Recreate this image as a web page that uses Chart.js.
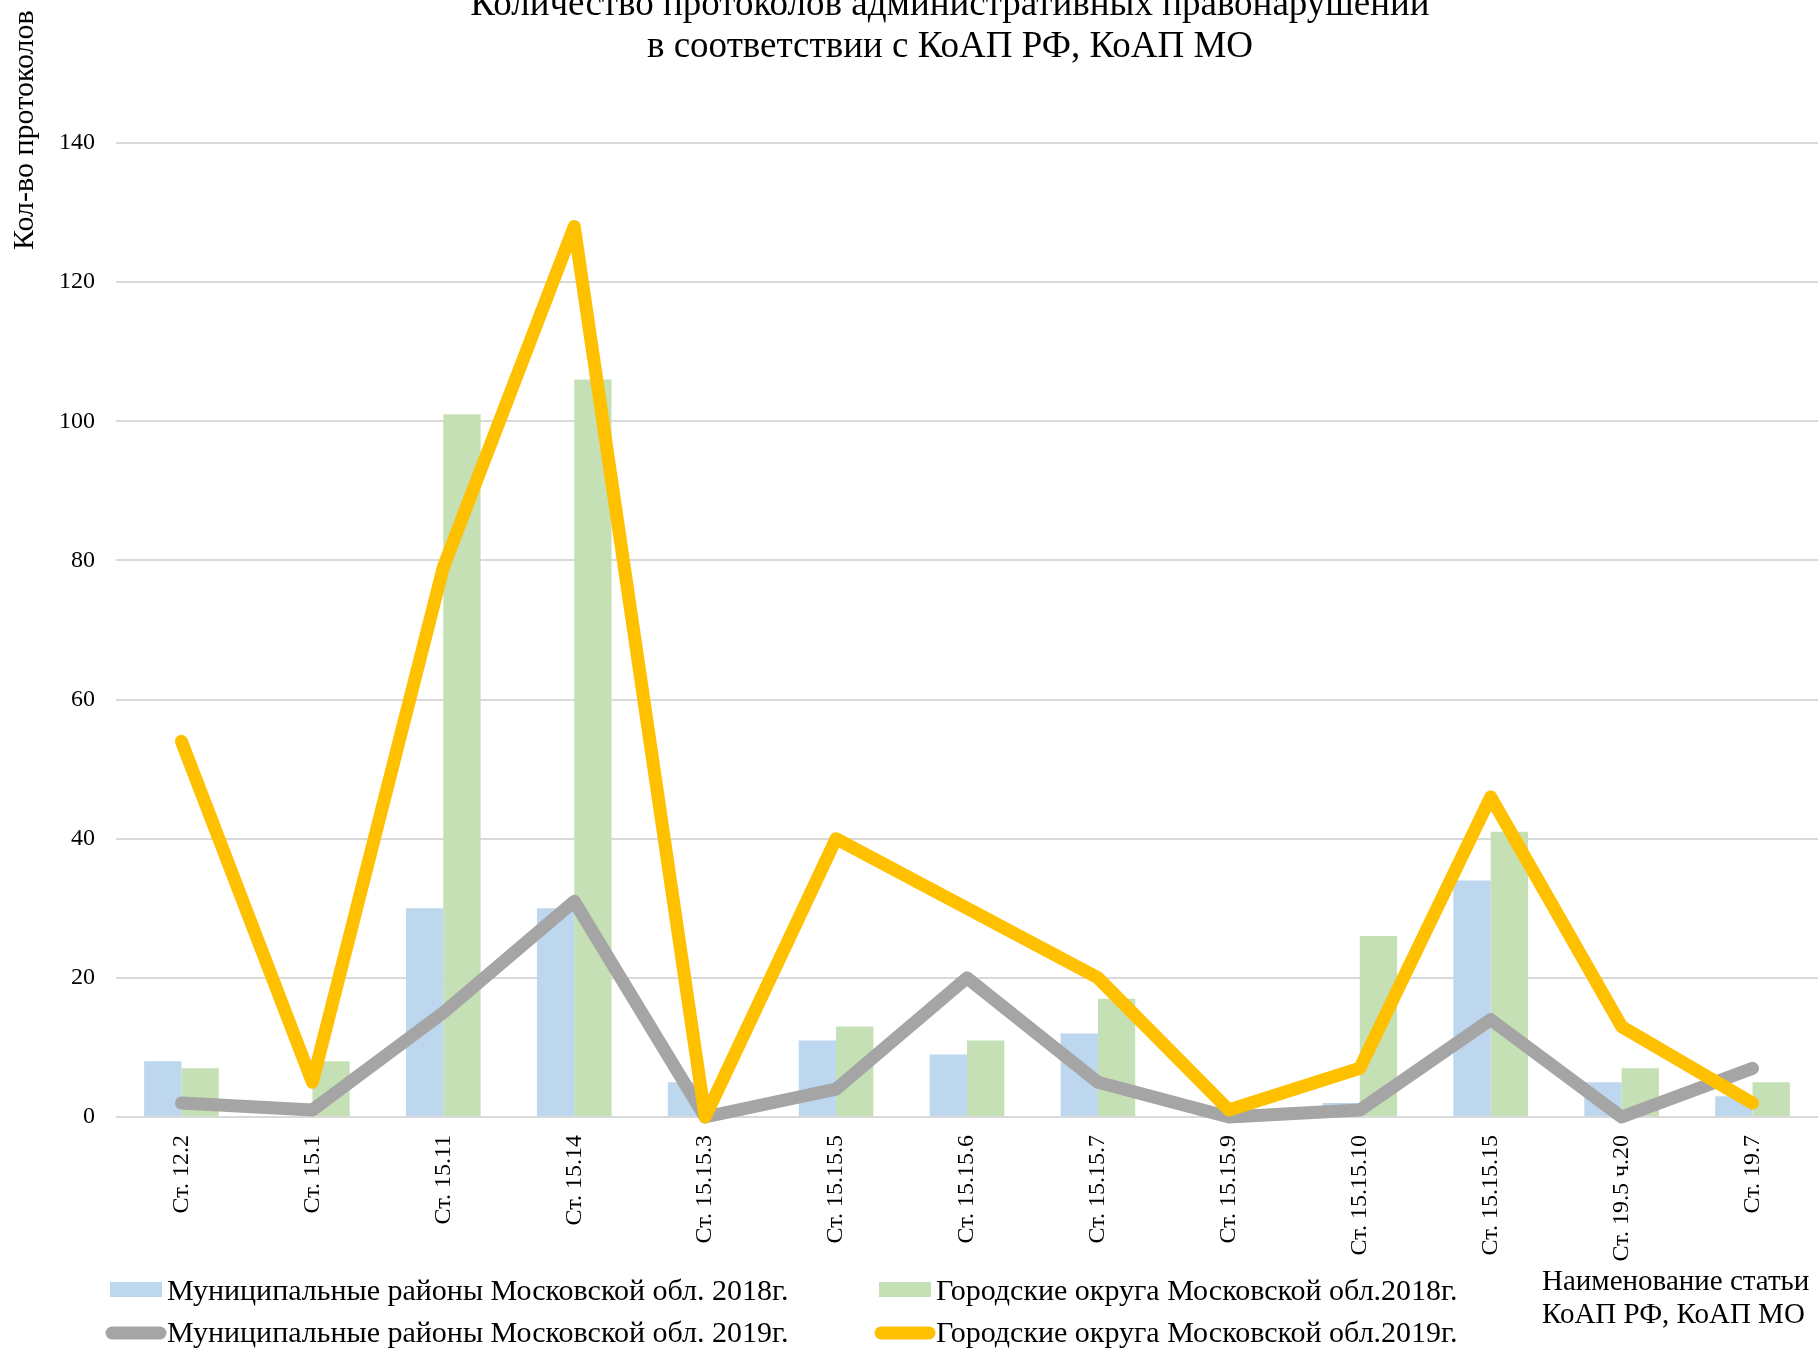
<!DOCTYPE html>
<html lang="ru">
<head>
    <meta charset="utf-8">
    <style>
        body { margin: 0; background: #fff; }
    </style>
</head>
<body>
    <canvas id="protocolsChart" width="1818" height="1350"></canvas>
    <script src="https://cdn.jsdelivr.net/npm/chart.js"></script>
    <script>
        const articles = ['Ст. 12.2', 'Ст. 15.1', 'Ст. 15.11', 'Ст. 15.14', 'Ст. 15.15.3', 'Ст. 15.15.5',
            'Ст. 15.15.6', 'Ст. 15.15.7', 'Ст. 15.15.9', 'Ст. 15.15.10', 'Ст. 15.15.15', 'Ст. 19.5 ч.20', 'Ст. 19.7'];
        const munic2018 = [8, 0, 30, 30, 5, 11, 9, 12, 0, 2, 34, 5, 3];
        const city2018 = [7, 8, 101, 106, 1, 13, 11, 17, 0, 26, 41, 7, 5];
        const munic2019 = [2, 1, 15, 31, 0, 4, 20, 5, 0, 1, 14, 0, 7];
        const city2019 = [54, 5, 79, 128, 0, 40, 30, 20, 1, 7, 46, 13, 2];
        const seriesNames = ['Муниципальные районы Московской обл. 2018г.', 'Городские округа Московской обл.2018г.',
            'Муниципальные районы Московской обл. 2019г.', 'Городские округа Московской обл.2019г.'];
        const seriesColors = ['#BDD7EE', '#C5E0B4', '#A5A5A5', '#FFC000'];
        const titleLines = ['Количество протоколов административных правонарушений', 'в соответствии с КоАП РФ, КоАП МО'];
        const yTitle = 'Кол-во протоколов';
        const xTitleLines = ['Наименование статьи', 'КоАП РФ, КоАП МО'];

        const serif = '"Liberation Serif", "DejaVu Serif", serif';

        // titles and legend are drawn by hand to match the original layout
        const decorations = {
            id: 'decorations',
            afterDraw(chart) {
                const ctx = chart.ctx;
                ctx.save();
                ctx.fillStyle = '#000';

                ctx.font = '37px ' + serif;
                ctx.textAlign = 'center';
                ctx.textBaseline = 'alphabetic';
                ctx.fillText(titleLines[0], 950, 15);
                ctx.fillText(titleLines[1], 950, 57);

                ctx.save();
                ctx.font = '30px ' + serif;
                ctx.translate(33, 250);
                ctx.rotate(-Math.PI / 2);
                ctx.textAlign = 'left';
                ctx.fillText(yTitle, 0, 0);
                ctx.restore();

                ctx.font = '29px ' + serif;
                ctx.textAlign = 'left';
                ctx.fillText(xTitleLines[0], 1542, 1290);
                ctx.fillText(xTitleLines[1], 1542, 1323);

                ctx.font = '30px ' + serif;
                const cols = [110, 879];
                const rows = [1300, 1342];
                for (let i = 0; i < 4; i++) {
                    const x = cols[i % 2];
                    const base = rows[Math.floor(i / 2)];
                    if (i < 2) {
                        ctx.fillStyle = seriesColors[i];
                        ctx.fillRect(x, base - 18, 52, 15);
                    } else {
                        ctx.strokeStyle = seriesColors[i];
                        ctx.lineWidth = 13;
                        ctx.lineCap = 'round';
                        ctx.beginPath();
                        ctx.moveTo(x + 2, base - 9);
                        ctx.lineTo(x + 50, base - 9);
                        ctx.stroke();
                    }
                    ctx.fillStyle = '#000';
                    ctx.fillText(seriesNames[i], x + 57, base);
                }
                ctx.restore();
            }
        };

        new Chart(document.getElementById('protocolsChart'), {
            data: {
                labels: articles,
                datasets: [
                    {
                        type: 'line', label: seriesNames[3], data: city2019, order: 0,
                        borderColor: seriesColors[3], borderWidth: 13, pointRadius: 0,
                        borderCapStyle: 'round', borderJoinStyle: 'round', clip: false, tension: 0
                    },
                    {
                        type: 'line', label: seriesNames[2], data: munic2019, order: 1,
                        borderColor: seriesColors[2], borderWidth: 13, pointRadius: 0,
                        borderCapStyle: 'round', borderJoinStyle: 'round', clip: false, tension: 0
                    },
                    {
                        type: 'bar', label: seriesNames[0], data: munic2018, order: 2,
                        backgroundColor: seriesColors[0], categoryPercentage: 0.57, barPercentage: 1
                    },
                    {
                        type: 'bar', label: seriesNames[1], data: city2018, order: 3,
                        backgroundColor: seriesColors[1], categoryPercentage: 0.57, barPercentage: 1
                    }
                ]
            },
            options: {
                responsive: false,
                animation: false,
                devicePixelRatio: 1,
                layout: { padding: { top: 143, left: 0, right: 0, bottom: 0 } },
                plugins: {
                    legend: { display: false },
                    title: { display: false },
                    tooltip: { enabled: false }
                },
                scales: {
                    x: {
                        grid: { display: false, drawTicks: false },
                        border: { display: false },
                        ticks: {
                            minRotation: 90, maxRotation: 90, padding: 18, color: '#000',
                            font: { family: serif, size: 24 }
                        },
                        afterFit: s => { s.height = 233; }
                    },
                    y: {
                        min: 0, max: 140,
                        grid: { color: '#D9D9D9', lineWidth: 2, drawTicks: false },
                        border: { display: false },
                        ticks: {
                            stepSize: 20, padding: 21, color: '#000',
                            font: { family: serif, size: 24 }
                        },
                        afterFit: s => { s.width = 116; }
                    }
                }
            },
            plugins: [decorations]
        });
    </script>
</body>
</html>
